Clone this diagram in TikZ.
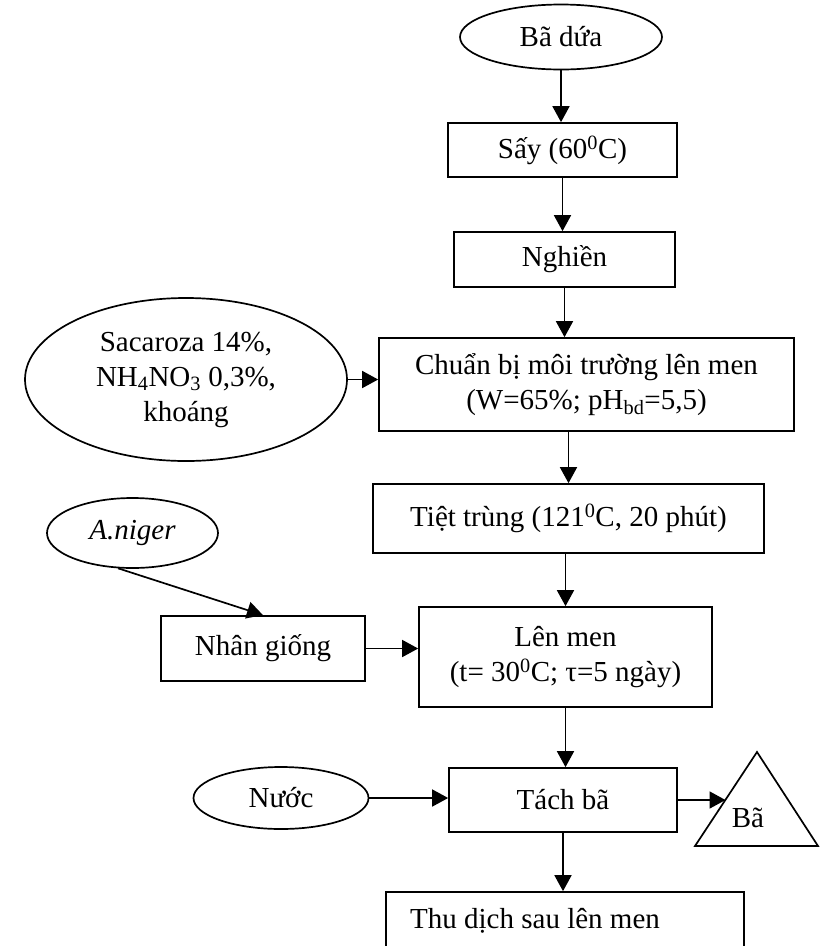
\documentclass[tikz,border=0pt]{standalone}
\usepackage{fontspec}
\setmainfont{Liberation Serif}
\usetikzlibrary{arrows.meta,shapes.geometric}
\begin{document}
\begin{tikzpicture}[x=1pt,y=-1pt,
  font=\fontsize{29}{35}\selectfont,
  box/.style={draw, line width=1.7pt, rectangle, inner sep=0pt, align=center},
  oval/.style={draw, line width=1.7pt, ellipse, inner sep=0pt, align=center},
  arr/.style={line width=1.7pt, -{Triangle[length=16pt,width=17pt]}}]
\clip (0,0) rectangle (820,946);
\path[use as bounding box] (0,0) rectangle (820,946);

\node[oval, minimum width=202pt, minimum height=65pt] (bada) at (561,37) {Bã dứa};
\node[box, minimum width=229pt, minimum height=54pt] (say) at (562.5,150) {Sấy (60\textsuperscript{0}C)};
\node[box, minimum width=221pt, minimum height=55pt] (nghien) at (564.5,259.5) {Nghiền};
\node[box, minimum width=415pt, minimum height=93pt] (cbi) at (586.5,384.5) {Chuẩn bị môi trường lên men\\(W=65\%; pH\textsubscript{bd}=5,5)};
\node[oval, minimum width=322pt, minimum height=163pt] (sac) at (186,379.5) {Sacaroza 14\%,\\NH\textsubscript{4}NO\textsubscript{3} 0,3\%,\\khoáng};
\node[box, minimum width=391pt, minimum height=69pt] (tiet) at (568.5,518.5) {Tiệt trùng (121\textsuperscript{0}C, 20 phút)};
\node[oval, minimum width=171pt, minimum height=70pt] (aniger) at (132.5,533) {\itshape A.niger};
\node[box, minimum width=204pt, minimum height=65pt] (nhan) at (263,648.5) {Nhân giống};
\node[box, minimum width=293pt, minimum height=100pt] (lenmen) at (565.5,657) {Lên men\\(t= 30\textsuperscript{0}C; τ=5 ngày)};
\node[box, minimum width=228pt, minimum height=64pt] (tach) at (563,800) {Tách bã};
\node[oval, minimum width=175pt, minimum height=62pt] (nuoc) at (281,798) {Nước};

\coordinate (baA) at (757,752);
\coordinate (baL) at (695,846);
\coordinate (baR) at (818,846);
\draw[line width=1.7pt] (baA) -- (baL) -- (baR) -- cycle;
\node[anchor=base, inner sep=0pt] (ba) at (748,827) {Bã};

\node[draw, line width=1.7pt, minimum width=358pt, minimum height=120pt, inner sep=0pt] (thu) at (565,952) {};
\node[anchor=base west, inner sep=0pt] (thutext) at (410,928) {Thu dịch sau lên men};

\draw[arr] (bada.south) -- (bada.south |- say.north);
\draw[arr] (say.south) -- (say.south |- nghien.north);
\draw[arr] (nghien.south) -- (nghien.south |- cbi.north);
\draw[arr] (sac.east) -- (sac.east -| cbi.west);
\draw[arr] (tiet.north |- cbi.south) -- (tiet.north);
\draw[arr] (lenmen.north |- tiet.south) -- (lenmen.north);
\draw[arr] (aniger.248) -- (nhan.north);
\draw[arr] (nhan.east) -- (nhan.east -| lenmen.west);
\draw[arr] (lenmen.south) -- (lenmen.south |- tach.north);
\draw[arr] (nuoc.east) -- (nuoc.east -| tach.west);
\coordinate (bain) at (725.5,800);
\draw[arr] (tach.east) -- (bain);
\draw[arr] (tach.south) -- (tach.south |- thu.north);
\end{tikzpicture}
\end{document}
